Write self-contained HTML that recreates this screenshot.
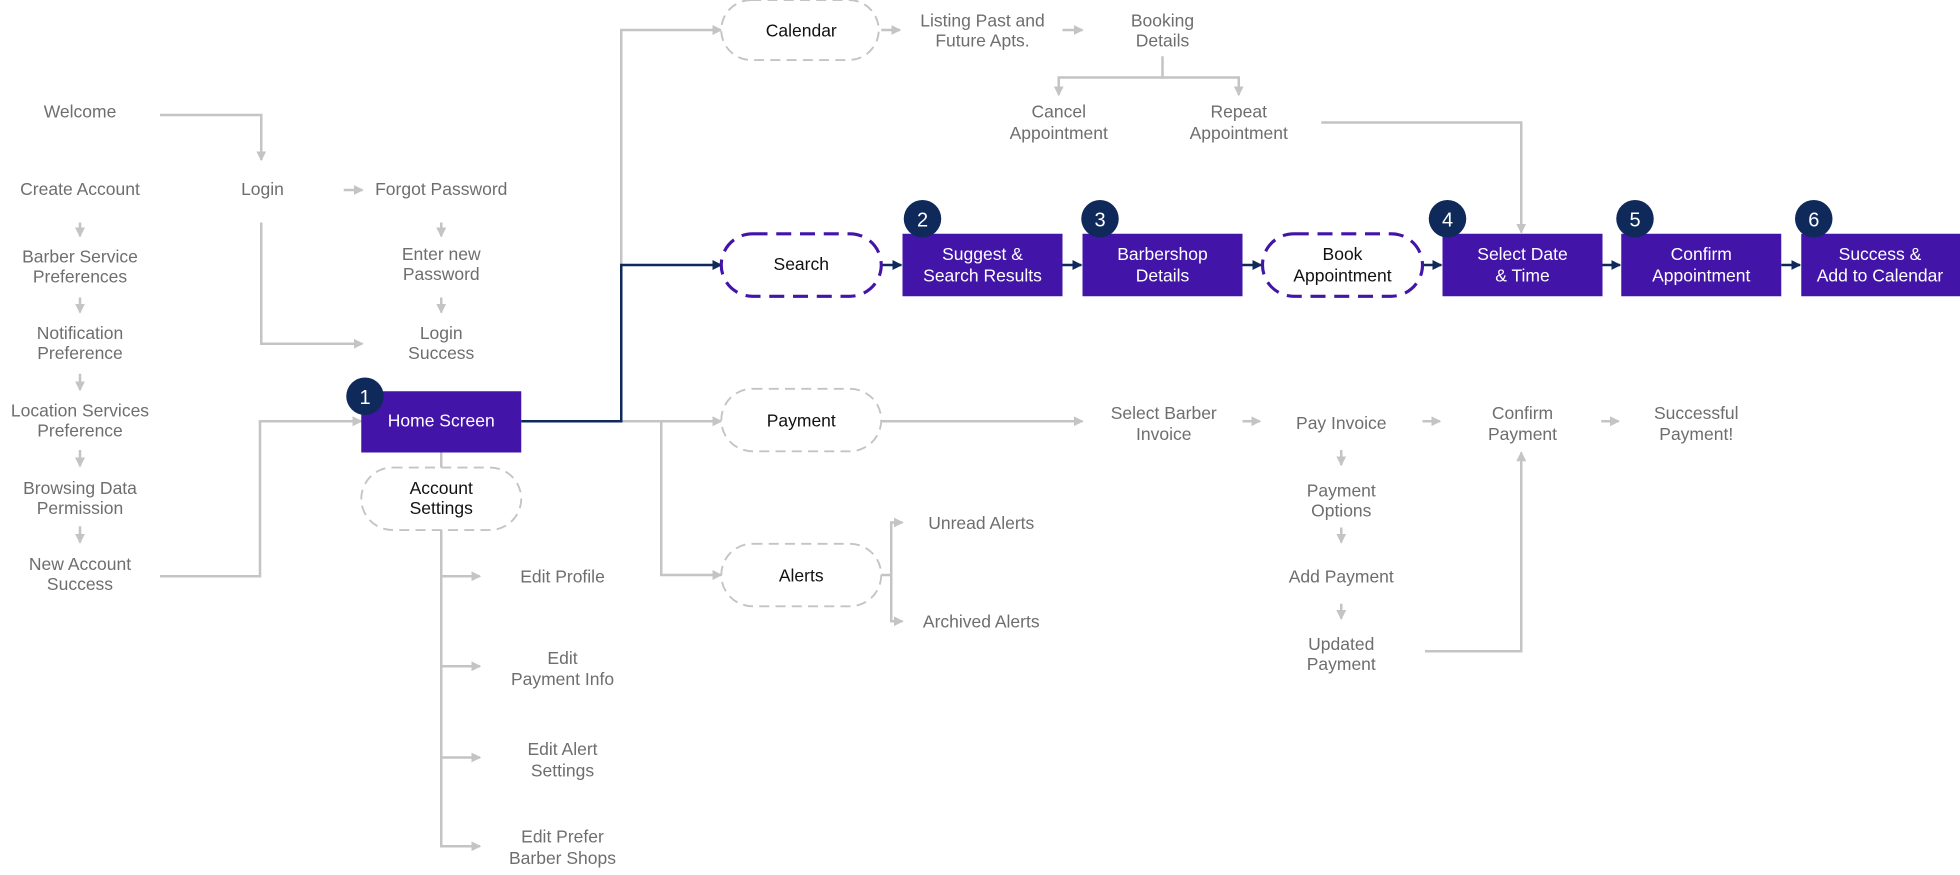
<!DOCTYPE html>
<html><head><meta charset="utf-8"><style>
html,body{margin:0;padding:0;background:#fff;}
svg{display:block}
text{font-family:"Liberation Sans",sans-serif;font-size:14px;text-anchor:middle;fill:#6e6e6e}
.w text{fill:#fff}.k text{fill:#111}
.g{stroke:#c4c4c4;stroke-width:2;fill:none}
.n{stroke:#0f2a5a;stroke-width:2;fill:none}
</style></head><body>
<svg width="1960" height="875" viewBox="0 0 1568 700" xmlns="http://www.w3.org/2000/svg">
<defs>
<marker id="ag" markerWidth="8" markerHeight="8" refX="7" refY="4" orient="auto" markerUnits="userSpaceOnUse"><path d="M0,0 L8,4 L0,8z" fill="#c4c4c4"/></marker>
<marker id="an" markerWidth="8" markerHeight="8" refX="7" refY="4" orient="auto" markerUnits="userSpaceOnUse"><path d="M0,0 L8,4 L0,8z" fill="#0f2a5a"/></marker>
</defs>
<g class="g" marker-end="url(#ag)">
<path d="M128,92 H209 V128"/>
<path d="M209,178 V275 H290"/>
<path d="M275,152 H290"/>
<path d="M353,178 V189"/><path d="M353,238 V250"/>
<path d="M64,178 V189"/><path d="M64,238 V250"/><path d="M64,299 V312"/><path d="M64,360 V373"/><path d="M64,421 V434"/>
<path d="M128,461 H208 V337 H289"/>
<path d="M497,212 V24 H577"/>
<path d="M417,337 H577"/>
<path d="M529,337 V460 H577"/>
<path d="M353,424 V677 H384"/>
<path d="M353,461 H384"/><path d="M353,533 H384"/><path d="M353,606 H384"/>
<path d="M705,460 H713 V418 H722"/><path d="M713,460 V497 H722"/>
<path d="M705,337 H866"/>
<path d="M994,337 H1008"/><path d="M1138,337 H1152"/><path d="M1281,337 H1295"/>
<path d="M1073,360 V372"/><path d="M1073,422 V434"/><path d="M1073,483 V495"/>
<path d="M1140,521 H1217 V362"/>
<path d="M705,24 H720"/><path d="M850,24 H866"/>
<path d="M930,45 V62 H847 V76"/><path d="M930,62 H991 V76"/>
<path d="M1057,98 H1217 V186"/>
</g>
<line x1="353" y1="362" x2="353" y2="374" class="g"/>
<g class="n" marker-end="url(#an)">
<path d="M417,337 H497 V212 H577"/>
<path d="M705,212 H721"/><path d="M850,212 H865"/><path d="M994,212 H1009"/>
<path d="M1138,212 H1153"/><path d="M1282,212 H1296"/><path d="M1425,212 H1440"/>
</g>
<g fill="#fff" stroke="#c4c4c4" stroke-width="1.5" stroke-dasharray="8,5">
<rect x="577" y="0" width="126" height="48" rx="24"/>
<rect x="577" y="311" width="128" height="50" rx="25"/>
<rect x="577" y="435" width="128" height="50" rx="25"/>
<rect x="289" y="374" width="128" height="50" rx="25"/>
</g>
<g fill="#fff" stroke="#4314a8" stroke-width="2.5" stroke-dasharray="12,7">
<rect x="577" y="187" width="128" height="50" rx="25"/>
<rect x="1010" y="187" width="128" height="50" rx="25"/>
</g>
<g fill="#4314a8">
<rect x="289" y="313" width="128" height="49"/>
<rect x="722" y="187" width="128" height="50"/>
<rect x="866" y="187" width="128" height="50"/>
<rect x="1154" y="187" width="128" height="50"/>
<rect x="1297" y="187" width="128" height="50"/>
<rect x="1441" y="187" width="127" height="50"/>
</g>
<g fill="#0f2a5a">
<circle cx="292" cy="317" r="15"/><circle cx="738" cy="175" r="15"/><circle cx="880" cy="175" r="15"/>
<circle cx="1158" cy="175" r="15"/><circle cx="1308" cy="175" r="15"/><circle cx="1451" cy="175" r="15"/>
</g>
<g class="w">
<text x="292" y="323" style="font-size:16px">1</text><text x="738" y="181" style="font-size:16px">2</text><text x="880" y="181" style="font-size:16px">3</text>
<text x="1158" y="181" style="font-size:16px">4</text><text x="1308" y="181" style="font-size:16px">5</text><text x="1451" y="181" style="font-size:16px">6</text>
<text x="353" y="341">Home Screen</text>
<text x="786" y="208">Suggest &amp;</text><text x="786" y="225">Search  Results</text>
<text x="930" y="208">Barbershop</text><text x="930" y="225">Details</text>
<text x="1218" y="208">Select Date</text><text x="1218" y="225">&amp; Time</text>
<text x="1361" y="208">Confirm</text><text x="1361" y="225">Appointment</text>
<text x="1504" y="208">Success &amp;</text><text x="1504" y="225">Add to Calendar</text>
</g>
<g class="k">
<text x="641" y="29">Calendar</text>
<text x="641" y="216">Search</text>
<text x="1074" y="208">Book</text><text x="1074" y="225">Appointment</text>
<text x="641" y="341">Payment</text>
<text x="641" y="465">Alerts</text>
<text x="353" y="395">Account</text><text x="353" y="411">Settings</text>
</g>
<g>
<text x="64" y="94">Welcome</text>
<text x="64" y="156">Create Account</text>
<text x="64" y="210">Barber Service</text><text x="64" y="226">Preferences</text>
<text x="64" y="271">Notification</text><text x="64" y="287">Preference</text>
<text x="64" y="333">Location Services</text><text x="64" y="349">Preference</text>
<text x="64" y="395">Browsing Data</text><text x="64" y="411">Permission</text>
<text x="64" y="456">New Account</text><text x="64" y="472">Success</text>
<text x="210" y="156">Login</text>
<text x="353" y="156">Forgot Password</text>
<text x="353" y="208">Enter new</text><text x="353" y="224">Password</text>
<text x="353" y="271">Login</text><text x="353" y="287">Success</text>
<text x="450" y="466">Edit Profile</text>
<text x="450" y="531">Edit</text><text x="450" y="548">Payment Info</text>
<text x="450" y="604">Edit Alert</text><text x="450" y="621">Settings</text>
<text x="450" y="674">Edit Prefer</text><text x="450" y="691">Barber Shops</text>
<text x="785" y="423">Unread  Alerts</text>
<text x="785" y="502">Archived  Alerts</text>
<text x="931" y="335">Select Barber</text><text x="931" y="352">Invoice</text>
<text x="1073" y="343">Pay Invoice</text>
<text x="1218" y="335">Confirm</text><text x="1218" y="352">Payment</text>
<text x="1357" y="335">Successful</text><text x="1357" y="352">Payment!</text>
<text x="1073" y="397">Payment</text><text x="1073" y="413">Options</text>
<text x="1073" y="466">Add Payment</text>
<text x="1073" y="520">Updated</text><text x="1073" y="536">Payment</text>
<text x="786" y="21">Listing Past and</text><text x="786" y="37">Future  Apts.</text>
<text x="930" y="21">Booking</text><text x="930" y="37">Details</text>
<text x="847" y="94">Cancel</text><text x="847" y="111">Appointment</text>
<text x="991" y="94">Repeat</text><text x="991" y="111">Appointment</text>
</g>
</svg>
</body></html>
